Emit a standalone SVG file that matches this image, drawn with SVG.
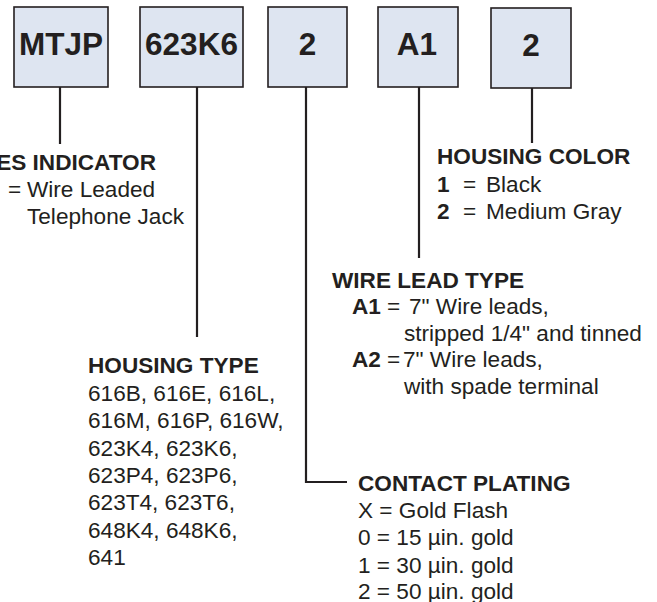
<svg xmlns="http://www.w3.org/2000/svg" width="657" height="602" viewBox="0 0 657 602">
<style>
.box{fill:#dee5f1;stroke:#231f20;stroke-width:1.6}
.bt{font-family:"Liberation Sans",Arial,sans-serif;font-weight:bold;font-size:31.5px;fill:#231f20;text-anchor:middle}
.t{font-family:"Liberation Sans",Arial,sans-serif;font-size:22.6px;fill:#231f20}
.b{font-weight:bold}
.ln{stroke:#231f20;stroke-width:2.2;fill:none}
</style>
<rect width="657" height="602" fill="#ffffff"/>
<g id="node-series">
<rect class="box" x="14" y="7" width="94" height="80"/>
<text class="bt" x="61" y="55">MTJP</text>
</g>
<g id="node-housing">
<rect class="box" x="140" y="7" width="103" height="80"/>
<text class="bt" x="191.5" y="55">623K6</text>
</g>
<g id="node-plating">
<rect class="box" x="268" y="7" width="79" height="80"/>
<text class="bt" x="307.5" y="55">2</text>
</g>
<g id="node-wire">
<rect class="box" x="378" y="7" width="80" height="80"/>
<text class="bt" x="417" y="54.5">A1</text>
</g>
<g id="node-color">
<rect class="box" x="491" y="8" width="80" height="80"/>
<text class="bt" x="531" y="55.5">2</text>
</g>
<g id="connectors">
<line class="ln" x1="60" y1="87" x2="60" y2="144"/>
<line class="ln" x1="197" y1="87" x2="197" y2="337"/>
<polyline class="ln" points="306,87 306,482 347,482"/>
<line class="ln" x1="419" y1="87" x2="419" y2="258"/>
<line class="ln" x1="532" y1="88" x2="532" y2="143"/>
</g>
<g id="label-series">
<text class="t b" x="156" y="170" text-anchor="end">ES INDICATOR</text>
<text class="t" x="8" y="197">=</text>
<text class="t" x="27" y="197">Wire Leaded</text>
<text class="t" x="27" y="224">Telephone Jack</text>
</g>
<g id="label-color">
<text class="t b" x="437" y="164">HOUSING COLOR</text>
<text class="t b" x="437" y="191.5">1</text>
<text class="t" x="463" y="191.5">=</text>
<text class="t" x="486" y="191.5">Black</text>
<text class="t b" x="437" y="218.5">2</text>
<text class="t" x="463" y="218.5">=</text>
<text class="t" x="486" y="218.5">Medium Gray</text>
</g>
<g id="label-wire">
<text class="t b" x="332" y="288">WIRE LEAD TYPE</text>
<text class="t b" x="352" y="314">A1</text>
<text class="t" x="387" y="314">=</text>
<text class="t" x="409" y="314">7" Wire leads,</text>
<text class="t" x="404" y="340.5">stripped 1/4" and tinned</text>
<text class="t b" x="352" y="367">A2</text>
<text class="t" x="387" y="367">=</text>
<text class="t" x="403" y="367">7" Wire leads,</text>
<text class="t" x="404" y="393.5">with spade terminal</text>
</g>
<g id="label-housing">
<text class="t b" x="88" y="373">HOUSING TYPE</text>
<text class="t" x="88" y="400.5">616B, 616E, 616L,</text>
<text class="t" x="88" y="428">616M, 616P, 616W,</text>
<text class="t" x="88" y="455.5">623K4, 623K6,</text>
<text class="t" x="88" y="483">623P4, 623P6,</text>
<text class="t" x="88" y="510">623T4, 623T6,</text>
<text class="t" x="88" y="537.5">648K4, 648K6,</text>
<text class="t" x="88" y="564.5">641</text>
</g>
<g id="label-plating">
<text class="t b" x="358" y="490.5">CONTACT PLATING</text>
<text class="t" x="358" y="517.5">X = Gold Flash</text>
<text class="t" x="358" y="545">0 = 15 µin. gold</text>
<text class="t" x="358" y="572.5">1 = 30 µin. gold</text>
<text class="t" x="358" y="599">2 = 50 µin. gold</text>
</g>
</svg>
